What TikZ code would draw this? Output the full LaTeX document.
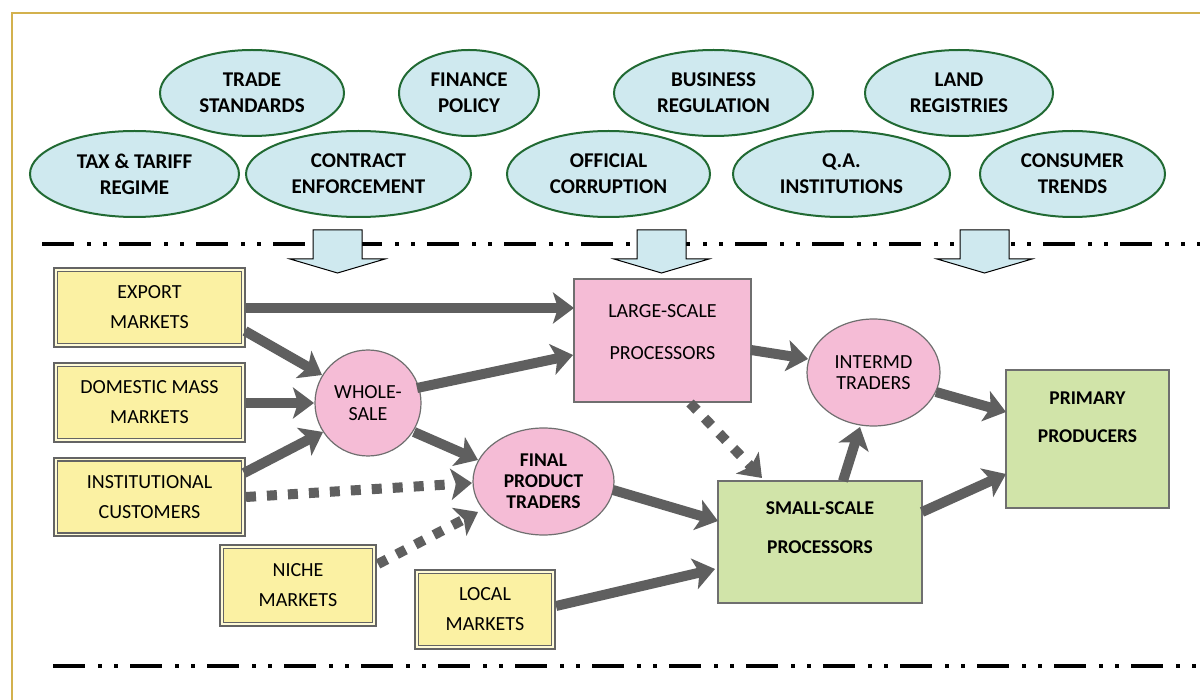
\documentclass[tikz,border=0pt]{standalone}
\usepackage{fontspec}
\setmainfont{Carlito}
\usetikzlibrary{arrows.meta,shapes.geometric,calc}
\definecolor{goldline}{HTML}{D3B14E}
\definecolor{ellblue}{HTML}{CFE9EF}
\definecolor{ellgreen}{HTML}{216A33}
\definecolor{yelfill}{HTML}{FBF1A3}
\definecolor{yelin}{HTML}{FFFBD6}
\definecolor{boxgray}{HTML}{646464}
\definecolor{pinkfill}{HTML}{F5BCD6}
\definecolor{greenfill}{HTML}{D1E4A9}
\definecolor{edgegray}{HTML}{6F6F6F}
\definecolor{arrgray}{HTML}{5F5F5F}
\begin{document}
\begin{tikzpicture}[x=1pt,y=-1pt,
  topell/.style={ellipse, draw=ellgreen, line width=2pt, fill=ellblue, inner sep=0pt,
    align=center, minimum height=86pt, font=\fontsize{21}{26}\selectfont\bfseries},
  yelbox/.style={rectangle, draw=boxgray, double=yelin, line width=1.8pt, double distance=1.8pt,
    fill=yelfill, inner sep=0pt, align=center, font=\fontsize{20}{30}\selectfont},
  pinknode/.style={draw=edgegray, line width=1.2pt, fill=pinkfill, inner sep=0pt, align=center},
  greenbox/.style={rectangle, draw=edgegray, line width=1.2pt, fill=greenfill, inner sep=0pt},
  flow/.style={draw=arrgray, line width=10pt, -{Stealth[length=21pt,width=31pt,inset=5pt]}},
  dflow/.style={flow, dash pattern=on 10pt off 11pt},
  sepline/.style={line width=4.5pt, black, dash pattern=on 32pt off 13pt on 4pt off 12pt on 4pt off 12pt},
  blockarrow/.style={draw=black, line width=1pt, fill=ellblue, line join=miter},
  lbl/.style={align=center, inner sep=0pt}
]
\useasboundingbox (0,0) rectangle (1200,700);
\fill[white] (0,0) rectangle (1200,700);
\draw[goldline, line width=2.3pt] (1200,13) -- (12,13) -- (12,700);

% separators
\draw[sepline] (42,244) -- (1200,244);
\draw[sepline] (53,666) -- (1200,666);

% block arrows
\foreach \c in {337.5,661.5,984.5}{
  \draw[blockarrow] ({\c-24.5},230) -- ({\c+24.5},230) -- ({\c+24.5},259) -- ({\c+47.5},259)
    -- (\c,273) -- ({\c-47.5},259) -- ({\c-24.5},259) -- cycle;
}

% top ellipses
\node[topell, minimum width=184pt] (trade) at (252,93) {TRADE\\STANDARDS};
\node[topell, minimum width=140pt] (finance) at (469,93) {FINANCE\\POLICY};
\node[topell, minimum width=199pt] (business) at (713.5,93) {BUSINESS\\REGULATION};
\node[topell, minimum width=188pt] (land) at (959,93) {LAND\\REGISTRIES};
\node[topell, minimum width=209pt] (tax) at (134.5,174) {TAX \& TARIFF\\REGIME};
\node[topell, minimum width=225pt] (contract) at (358.5,174) {CONTRACT\\ENFORCEMENT};
\node[topell, minimum width=203pt] (official) at (608.5,174) {OFFICIAL\\CORRUPTION};
\node[topell, minimum width=217pt] (qa) at (841.5,174) {Q.A.\\INSTITUTIONS};
\node[topell, minimum width=185pt] (consumer) at (1072.5,174) {CONSUMER\\TRENDS};

% yellow market boxes
\node[yelbox, minimum width=187.6pt, minimum height=75.6pt] (exp) at (149.5,307.5) {EXPORT\\MARKETS};
\node[yelbox, minimum width=187.6pt, minimum height=75.6pt] (dom) at (149.5,402.5) {DOMESTIC MASS\\MARKETS};
\node[yelbox, minimum width=187.6pt, minimum height=75pt] (inst) at (149.5,497) {INSTITUTIONAL\\CUSTOMERS};
\node[yelbox, minimum width=152.6pt, minimum height=77.6pt] (niche) at (298,585.5) {NICHE\\MARKETS};
\node[yelbox, minimum width=136.6pt, minimum height=75.6pt] (local) at (485,609.5) {LOCAL\\MARKETS};

% pink nodes
\node[pinknode, circle, minimum size=106pt, font=\fontsize{20}{22}\selectfont] (ws) at (368,403) {WHOLE-\\SALE};
\node[pinknode, ellipse, minimum width=141pt, minimum height=107pt, font=\fontsize{19.5}{21}\selectfont\bfseries] (fpt) at (543.5,481.5) {FINAL\\PRODUCT\\TRADERS};
\node[pinknode, rectangle, minimum width=177pt, minimum height=123pt] (lsp) at (662.5,340.5) {};
\node[lbl, font=\fontsize{20}{42}\selectfont] (lsptext) at ($(lsp.center)+(0,-8)$) {LARGE-SCALE\\PROCESSORS};
\node[pinknode, ellipse, minimum width=133pt, minimum height=107pt, font=\fontsize{20}{21}\selectfont] (imt) at (873.5,372.5) {INTERMD\\TRADERS};

% green boxes
\node[greenbox, minimum width=204pt, minimum height=122pt] (ssp) at (820,542) {};
\node[lbl, font=\fontsize{19.5}{39}\selectfont\bfseries] (ssptext) at ($(ssp.center)+(0,-14)$) {SMALL-SCALE\\PROCESSORS};
\node[greenbox, minimum width=163pt, minimum height=138pt] (ppr) at (1087.5,439) {};
\node[lbl, font=\fontsize{19.5}{38}\selectfont\bfseries] (pprtext) at ($(ppr.center)+(0,-21.5)$) {PRIMARY\\PRODUCERS};

% flows
\draw[flow] ($(exp.center)+(96.5,0.5)$) -- ($(lsp.center)+(-88.5,-32.5)$);
\draw[flow] ($(exp.center)+(95.5,23.5)$) -- ($(ws.center)+(-46,-28)$);
\draw[flow] ($(dom.center)+(96.5,0.5)$) -- ($(ws.center)+(-54,0)$);
\draw[flow] ($(inst.center)+(94.5,-24)$) -- ($(ws.center)+(-45,29)$);
\draw[flow] ($(ws.center)+(49,-15)$) -- ($(lsp.center)+(-89.5,14.5)$);
\draw[flow] ($(ws.center)+(46,29)$) -- ($(fpt.center)+(-65.5,-21.5)$);
\draw[dflow] ($(inst.center)+(96.5,0)$) -- ($(fpt.center)+(-71.5,1.5)$);
\draw[dflow] ($(niche.center)+(80,-21.5)$) -- ($(fpt.center)+(-65.5,30.5)$);
\draw[flow] ($(fpt.center)+(69.5,8.5)$) -- ($(ssp.center)+(-102,-21)$);
\draw[flow] ($(local.center)+(71,-3.5)$) -- ($(ssp.center)+(-105,27)$);
\draw[dflow] ($(lsp.center)+(27.5,62.5)$) -- ($(ssp.center)+(-58,-64)$);
\draw[flow] ($(lsp.center)+(88.5,9.5)$) -- ($(imt.center)+(-65.5,-13.5)$);
\draw[flow] ($(ssp.center)+(23,-61)$) -- ($(imt.center)+(-13.5,54.5)$);
\draw[flow] ($(imt.center)+(62.5,19.5)$) -- ($(ppr.center)+(-81.5,-27)$);
\draw[flow] ($(ssp.center)+(102,-30)$) -- ($(ppr.center)+(-81.5,35)$);
\end{tikzpicture}
\end{document}
